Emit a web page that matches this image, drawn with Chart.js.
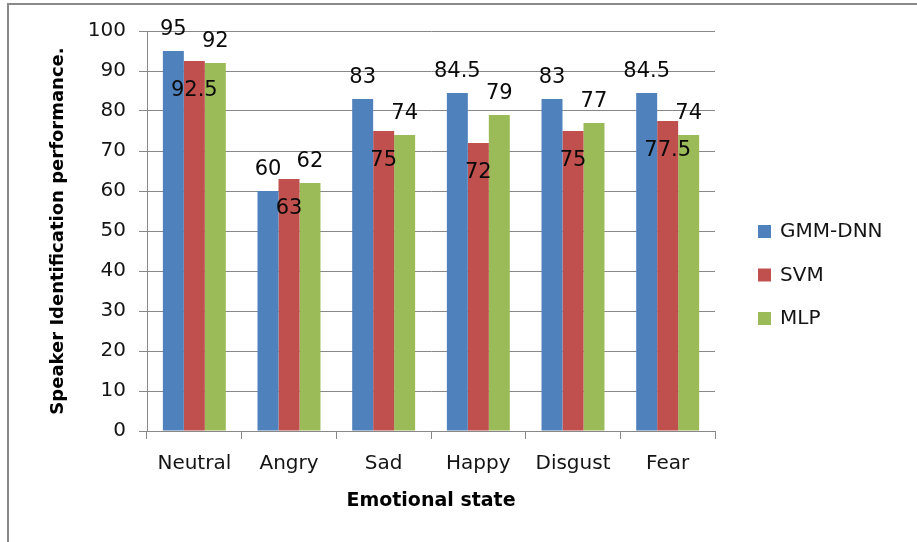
<!DOCTYPE html>
<html>
<head>
<meta charset="utf-8">
<script src="https://cdn.jsdelivr.net/npm/chart.js@4"></script>
<style>
  html, body { margin: 0; padding: 0; background: #fff; overflow: hidden; }
  #wrap { position: relative; width: 917px; height: 542px; }
  #frame {
    position: absolute; left: 7px; top: 3px; width: 1000px; height: 1000px;
    border: 2px solid #8a8a8a; pointer-events: none;
  }
</style>
</head>
<body>
<div id="wrap">
  <canvas id="chart" width="917" height="542"></canvas>
  <div id="frame"></div>
</div>
<script>
/* -------------------------
   DATA
------------------------- */
const emotions = ["Neutral", "Angry", "Sad", "Happy", "Disgust", "Fear"];
const gmmDnn = [95, 60, 83, 84.5, 83, 84.5];
const svm = [92.5, 63, 75, 72, 75, 77.5];
const mlp = [92, 62, 74, 79, 77, 74];
const yTicks = [0, 10, 20, 30, 40, 50, 60, 70, 80, 90, 100];

const GRID = "#888888";
const TEXT = "#141414";
const FONT = "'DejaVu Sans', sans-serif";

/* -------------------------
   VALUE LABELS (SVM inside, others above)
------------------------- */
const valueLabels = {
  id: "valueLabels",
  afterDatasetsDraw(chart) {
    const ctx = chart.ctx;
    ctx.save();
    ctx.font = "21px " + FONT;
    ctx.fillStyle = "#0a0a0a";
    ctx.textAlign = "center";
    ctx.textBaseline = "alphabetic";
    chart.data.datasets.forEach((ds, i) => {
      const meta = chart.getDatasetMeta(i);
      meta.data.forEach((bar, j) => {
        const inside = ds.label === "SVM";
        const y = inside ? bar.y + 35 : bar.y - 16;
        ctx.fillText(String(ds.data[j]), bar.x, y);
      });
    });
    ctx.restore();
  }
};

/* -------------------------
   LEGEND (right side, Excel style)
------------------------- */
const sideLegend = {
  id: "sideLegend",
  afterDraw(chart) {
    const ctx = chart.ctx;
    const x = chart.chartArea.right + 43;
    const yStart = 231;
    const step = 43.5;
    ctx.save();
    ctx.font = "20px " + FONT;
    ctx.textBaseline = "middle";
    ctx.textAlign = "left";
    chart.data.datasets.forEach((ds, i) => {
      const y = yStart + i * step;
      ctx.fillStyle = ds.backgroundColor;
      ctx.fillRect(x, y - 6, 13, 13);
      ctx.fillStyle = TEXT;
      ctx.fillText(ds.label, x + 22, y + 1);
    });
    ctx.restore();
  }
};

/* -------------------------
   CHART
------------------------- */
new Chart(document.getElementById("chart").getContext("2d"), {
  type: "bar",
  data: {
    labels: emotions,
    datasets: [
      { label: "GMM-DNN", data: gmmDnn, backgroundColor: "#4F81BD" },
      { label: "SVM", data: svm, backgroundColor: "#C0504D" },
      { label: "MLP", data: mlp, backgroundColor: "#9BBB59" }
    ]
  },
  options: {
    responsive: false,
    animation: false,
    layout: { padding: { left: 0, right: 202, top: 31, bottom: 0 } },
    datasets: { bar: { categoryPercentage: 0.665, barPercentage: 1 } },
    plugins: {
      legend: { display: false },
      tooltip: { enabled: false }
    },
    scales: {
      x: {
        grid: { drawOnChartArea: false, drawTicks: true, tickLength: 8, color: GRID, offset: true },
        border: { display: true, color: GRID, width: 1 },
        ticks: { color: TEXT, font: { family: FONT, size: 20 }, padding: 13 },
        title: {
          display: true, text: "Emotional state", color: "#000",
          font: { family: FONT, size: 19, weight: "bold" },
          padding: { top: 0, bottom: 30 }
        },
        afterFit(scale) { scale.height = 111; }
      },
      y: {
        min: 0, max: 100,
        afterBuildTicks(scale) { scale.ticks = yTicks.map(v => ({ value: v })); },
        grid: { color: GRID, tickLength: 8, drawTicks: true },
        border: { display: true, color: GRID, width: 1 },
        ticks: { color: TEXT, font: { family: FONT, size: 20 }, padding: 13 },
        title: {
          display: true, text: "Speaker Identification performance.", color: "#000",
          font: { family: FONT, size: 18, weight: "bold" },
          padding: { top: 48, bottom: 0 }
        },
        afterFit(scale) { scale.width = 147; }
      }
    }
  },
  plugins: [valueLabels, sideLegend]
});
</script>
</body>
</html>
